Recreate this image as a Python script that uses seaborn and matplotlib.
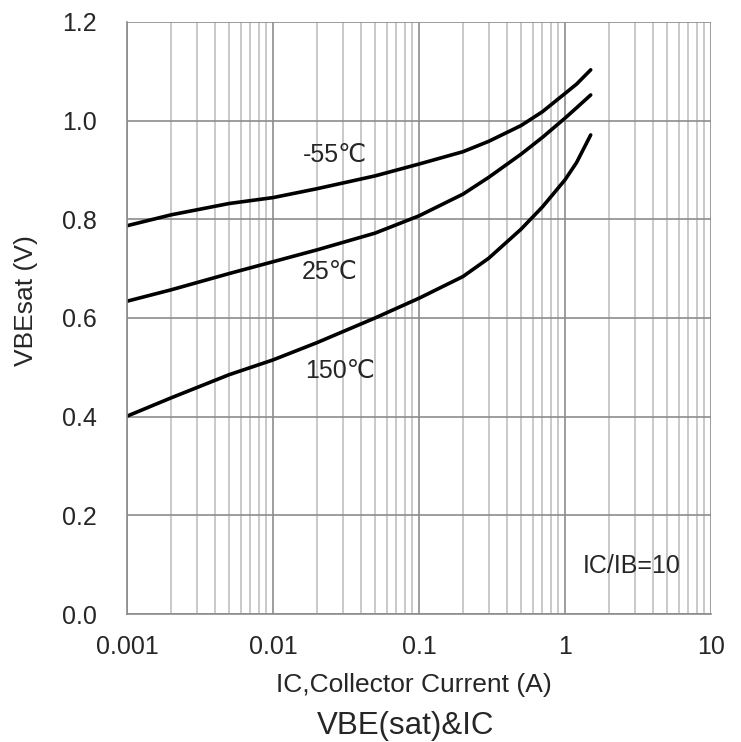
import numpy as np
import seaborn as sns
import pandas as pd
import matplotlib.pyplot as plt
from matplotlib.ticker import LogLocator, FixedLocator, NullFormatter

# collector current (A) and VBE(sat)
ic = [0.001, 0.002, 0.005, 0.01, 0.02, 0.05, 0.1, 0.2, 0.3, 0.5, 0.7, 1.0, 1.2, 1.5]
vbe_m55 = [0.787, 0.809, 0.832, 0.844, 0.862, 0.888, 0.912, 0.937, 0.958, 0.990, 1.018, 1.055, 1.074, 1.103]
vbe_25 = [0.634, 0.657, 0.690, 0.714, 0.738, 0.772, 0.807, 0.851, 0.885, 0.932, 0.966, 1.005, 1.026, 1.052]
vbe_150 = [0.401, 0.438, 0.485, 0.515, 0.550, 0.600, 0.640, 0.684, 0.721, 0.780, 0.825, 0.880, 0.915, 0.971]
temps = ['-55℃', '25℃', '150℃']

x_ticks = [0.001, 0.01, 0.1, 1, 10]
x_ticklabels = ['0.001', '0.01', '0.1', '1', '10']
y_ticks = [0.0, 0.2, 0.4, 0.6, 0.8, 1.0, 1.2]

df = pd.DataFrame({
    'IC': ic * 3,
    'VBE': vbe_m55 + vbe_25 + vbe_150,
    'Temp': [t for t in temps for _ in ic],
})

sns.set_style('white')
plt.rcParams['font.family'] = ['Liberation Sans', 'DejaVu Sans']

fig = plt.figure(figsize=(7.41, 7.42), dpi=100)
ax = fig.add_axes([0.1714, 0.1725, 0.7881, 0.7979])

sns.lineplot(data=df, x='IC', y='VBE', units='Temp', estimator=None,
             color='black', linewidth=2.6, sort=True, ax=ax, legend=False)

ax.set_xscale('log')
ax.set_xlim(0.001, 10)
ax.set_ylim(0, 1.2)

ax.xaxis.set_major_locator(FixedLocator(x_ticks))
ax.set_xticklabels(x_ticklabels)
ax.xaxis.set_minor_locator(LogLocator(base=10, subs=np.arange(2, 10), numticks=20))
ax.xaxis.set_minor_formatter(NullFormatter())
ax.set_yticks(y_ticks)
ax.set_yticklabels([f'{v:.1f}' for v in y_ticks])

ax.grid(True, which='major', axis='both', color='#8c8c8c', linewidth=1.2)
ax.grid(True, which='minor', axis='x', color='#c0c0c0', linewidth=1.2)
ax.set_axisbelow(True)

for s in ['top', 'right']:
    ax.spines[s].set_visible(False)
for s in ['left', 'bottom']:
    ax.spines[s].set_color('#8c8c8c')
    ax.spines[s].set_linewidth(1.2)

ax.tick_params(axis='both', which='major', direction='out', length=8,
               width=1.2, color='#8c8c8c', labelsize=18)
ax.tick_params(axis='x', which='major', pad=7)
ax.tick_params(axis='y', which='major', pad=14)
ax.tick_params(axis='x', which='minor', length=0)

ax.set_xlabel('IC,Collector Current (A)', fontsize=19)
ax.xaxis.label.set_va('baseline')
ax.xaxis.set_label_coords(0.491, -0.1318)
ax.set_ylabel('VBEsat (V)', fontsize=19)
ax.yaxis.label.set_va('center')
ax.yaxis.set_label_coords(-0.173, 0.529)

ax.text(0.0266, 0.93, '-55℃', fontsize=18, ha='center', va='center')
ax.text(0.0246, 0.693, '25℃', fontsize=18, ha='center', va='center')
ax.text(0.0287, 0.493, '150℃', fontsize=18, ha='center', va='center')
ax.text(2.88, 0.097, 'IC/IB=10', fontsize=18, ha='center', va='center')

fig.text(0.547, 0.0108, 'VBE(sat)&IC', fontsize=22.5, ha='center', va='baseline')

fig.savefig('out.png', dpi=100)
